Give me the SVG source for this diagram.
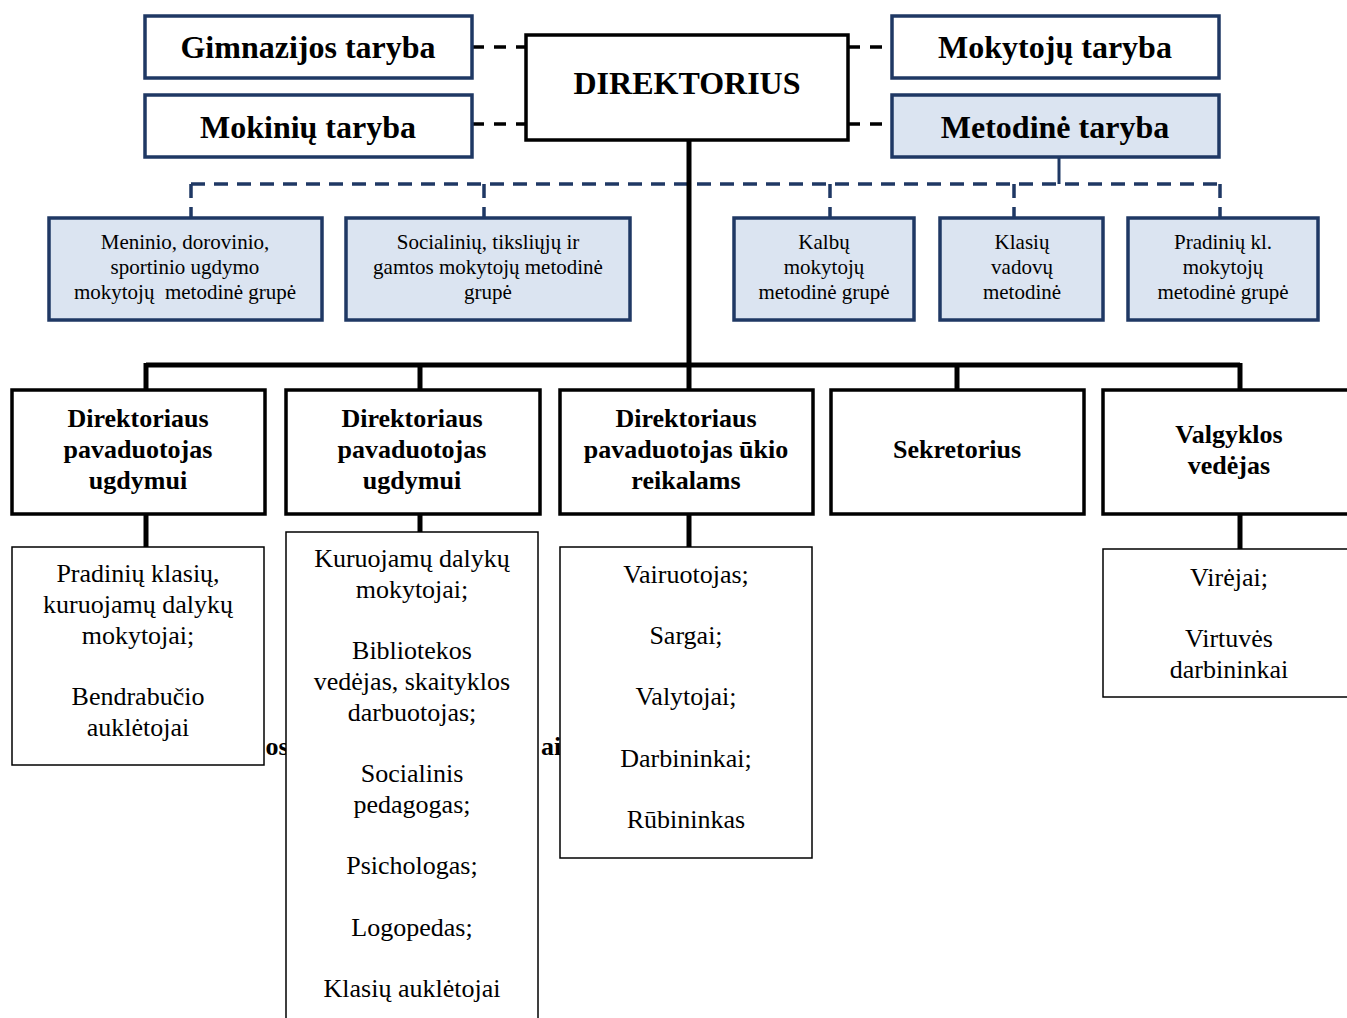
<svg xmlns="http://www.w3.org/2000/svg" width="1347" height="1018" viewBox="0 0 1347 1018">
<style>
.bg{fill:#fff}
.council{fill:#fff;stroke:#1f3864;stroke-width:3.5}
.council.blue{fill:#dbe4f1}
.group{fill:#dbe4f1;stroke:#1f3864;stroke-width:3.5}
.dir{fill:#fff;stroke:#000;stroke-width:3.5}
.dept{fill:#fff;stroke:#000;stroke-width:3.5}
.staff{fill:#fff;stroke:#000;stroke-width:1.5}
.t{font-family:"Liberation Serif","Times New Roman",serif;text-anchor:middle;fill:#000}
.tb{font-weight:bold}
.big{font-size:32px}
.mid{font-size:26px}
.sm{font-size:21px}
.reg{font-size:26px}
.solid{stroke:#000;stroke-width:5;fill:none}
.dashk{stroke:#000;stroke-width:3.5;fill:none;stroke-dasharray:12 10}
.dashn{stroke:#1f3864;stroke-width:3.5;fill:none;stroke-dasharray:14 9}
.navy{stroke:#1f3864;stroke-width:3;fill:none}
</style>
<rect class="bg" x="0" y="0" width="1347" height="1018"/>

<!-- hidden text fragments -->
<text class="t tb mid" x="277" y="755">os</text>
<text class="t tb mid" x="551" y="755">ai</text>

<g id="connectors">
  <line class="dashk" x1="472" y1="47" x2="526" y2="47"/>
  <line class="dashk" x1="472" y1="124" x2="526" y2="124"/>
  <line class="dashk" x1="848" y1="47" x2="892" y2="47"/>
  <line class="dashk" x1="848" y1="124" x2="892" y2="124"/>
  <line class="navy" x1="1059" y1="157" x2="1059" y2="184"/>
  <line class="dashn" x1="191" y1="184" x2="1220" y2="184"/>
  <line class="dashn" x1="191" y1="184" x2="191" y2="218"/>
  <line class="dashn" x1="484" y1="184" x2="484" y2="218"/>
  <line class="dashn" x1="830" y1="184" x2="830" y2="218"/>
  <line class="dashn" x1="1014" y1="184" x2="1014" y2="218"/>
  <line class="dashn" x1="1220" y1="184" x2="1220" y2="218"/>
  <line class="solid" x1="689" y1="140" x2="689" y2="390"/>
  <line class="solid" x1="146" y1="365" x2="1240" y2="365"/>
  <line class="solid" x1="146" y1="363" x2="146" y2="390"/>
  <line class="solid" x1="420" y1="365" x2="420" y2="390"/>
  <line class="solid" x1="957" y1="365" x2="957" y2="390"/>
  <line class="solid" x1="1240" y1="363" x2="1240" y2="390"/>
  <line class="solid" x1="146" y1="514" x2="146" y2="547"/>
  <line class="solid" x1="420" y1="514" x2="420" y2="532"/>
  <line class="solid" x1="689" y1="514" x2="689" y2="547"/>
  <line class="solid" x1="1240" y1="514" x2="1240" y2="549"/>
</g>

<g id="gimnazijos-taryba">
  <rect class="council" x="145" y="16" width="327" height="62"/>
  <text class="t tb big" x="308" y="58">Gimnazijos taryba</text>
</g>
<g id="mokiniu-taryba">
  <rect class="council" x="145" y="95" width="327" height="62"/>
  <text class="t tb big" x="308" y="138">Mokinių taryba</text>
</g>
<g id="direktorius">
  <rect class="dir" x="526" y="35" width="322" height="105"/>
  <text class="t tb big" x="687" y="94">DIREKTORIUS</text>
</g>
<g id="mokytoju-taryba">
  <rect class="council" x="892" y="16" width="327" height="62"/>
  <text class="t tb big" x="1055" y="58">Mokytojų taryba</text>
</g>
<g id="metodine-taryba">
  <rect class="council blue" x="892" y="95" width="327" height="62"/>
  <text class="t tb big" x="1055" y="138">Metodinė taryba</text>
</g>

<g id="grupe-meninio">
  <rect class="group" x="49" y="218" width="273" height="102"/>
  <text class="t sm" x="185" y="249">Meninio, dorovinio,</text>
  <text class="t sm" x="185" y="274">sportinio ugdymo</text>
  <text class="t sm" x="185" y="299" xml:space="preserve">mokytojų  metodinė grupė</text>
</g>
<g id="grupe-socialiniu">
  <rect class="group" x="346" y="218" width="284" height="102"/>
  <text class="t sm" x="488" y="249">Socialinių, tiksliųjų ir</text>
  <text class="t sm" x="488" y="274">gamtos mokytojų metodinė</text>
  <text class="t sm" x="488" y="299">grupė</text>
</g>
<g id="grupe-kalbu">
  <rect class="group" x="734" y="218" width="180" height="102"/>
  <text class="t sm" x="824" y="249">Kalbų</text>
  <text class="t sm" x="824" y="274">mokytojų</text>
  <text class="t sm" x="824" y="299">metodinė grupė</text>
</g>
<g id="grupe-klasiu">
  <rect class="group" x="940" y="218" width="163" height="102"/>
  <text class="t sm" x="1022" y="249">Klasių</text>
  <text class="t sm" x="1022" y="274">vadovų</text>
  <text class="t sm" x="1022" y="299">metodinė</text>
</g>
<g id="grupe-pradiniu">
  <rect class="group" x="1128" y="218" width="190" height="102"/>
  <text class="t sm" x="1223" y="249">Pradinių kl.</text>
  <text class="t sm" x="1223" y="274">mokytojų</text>
  <text class="t sm" x="1223" y="299">metodinė grupė</text>
</g>

<g id="pavaduotojas-1">
  <rect class="dept" x="12" y="390" width="253" height="124"/>
  <text class="t tb mid" x="138" y="427">Direktoriaus</text>
  <text class="t tb mid" x="138" y="458">pavaduotojas</text>
  <text class="t tb mid" x="138" y="489">ugdymui</text>
</g>
<g id="pavaduotojas-2">
  <rect class="dept" x="286" y="390" width="254" height="124"/>
  <text class="t tb mid" x="412" y="427">Direktoriaus</text>
  <text class="t tb mid" x="412" y="458">pavaduotojas</text>
  <text class="t tb mid" x="412" y="489">ugdymui</text>
</g>
<g id="pavaduotojas-ukio">
  <rect class="dept" x="560" y="390" width="253" height="124"/>
  <text class="t tb mid" x="686" y="427">Direktoriaus</text>
  <text class="t tb mid" x="686" y="458">pavaduotojas ūkio</text>
  <text class="t tb mid" x="686" y="489">reikalams</text>
</g>
<g id="sekretorius">
  <rect class="dept" x="831" y="390" width="253" height="124"/>
  <text class="t tb mid" x="957" y="458">Sekretorius</text>
</g>
<g id="valgyklos-vedejas">
  <rect class="dept" x="1103" y="390" width="250" height="124"/>
  <text class="t tb mid" x="1229" y="443">Valgyklos</text>
  <text class="t tb mid" x="1229" y="474">vedėjas</text>
</g>

<g id="staff-1">
  <rect class="staff" x="12" y="547" width="252" height="218"/>
  <text class="t reg" x="138" y="582">Pradinių klasių,</text>
  <text class="t reg" x="138" y="613">kuruojamų dalykų</text>
  <text class="t reg" x="138" y="644">mokytojai;</text>
  <text class="t reg" x="138" y="705">Bendrabučio</text>
  <text class="t reg" x="138" y="736">auklėtojai</text>
</g>
<g id="staff-2">
  <rect class="staff" x="286" y="532" width="252" height="500"/>
  <text class="t reg" x="412" y="567">Kuruojamų dalykų</text>
  <text class="t reg" x="412" y="598">mokytojai;</text>
  <text class="t reg" x="412" y="659">Bibliotekos</text>
  <text class="t reg" x="412" y="690">vedėjas, skaityklos</text>
  <text class="t reg" x="412" y="721">darbuotojas;</text>
  <text class="t reg" x="412" y="782">Socialinis</text>
  <text class="t reg" x="412" y="813">pedagogas;</text>
  <text class="t reg" x="412" y="874">Psichologas;</text>
  <text class="t reg" x="412" y="936">Logopedas;</text>
  <text class="t reg" x="412" y="997">Klasių auklėtojai</text>
</g>
<g id="staff-3">
  <rect class="staff" x="560" y="547" width="252" height="311"/>
  <text class="t reg" x="686" y="583">Vairuotojas;</text>
  <text class="t reg" x="686" y="644">Sargai;</text>
  <text class="t reg" x="686" y="705">Valytojai;</text>
  <text class="t reg" x="686" y="767">Darbininkai;</text>
  <text class="t reg" x="686" y="828">Rūbininkas</text>
</g>
<g id="staff-5">
  <rect class="staff" x="1103" y="549" width="250" height="148"/>
  <text class="t reg" x="1229" y="586">Virėjai;</text>
  <text class="t reg" x="1229" y="647">Virtuvės</text>
  <text class="t reg" x="1229" y="678">darbininkai</text>
</g>
</svg>
